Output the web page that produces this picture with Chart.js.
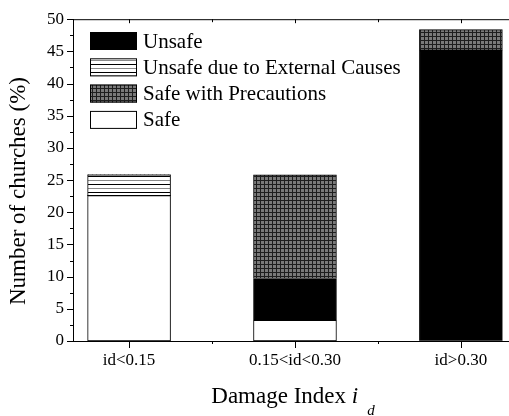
<!DOCTYPE html>
<html>
<head>
<meta charset="utf-8">
<script src="https://cdn.jsdelivr.net/npm/chart.js@4/dist/chart.umd.min.js"></script>
<style>
  html, body { margin: 0; padding: 0; background: #fff; overflow: hidden; }
</style>
</head>
<body>
<canvas id="chart" width="509" height="416"></canvas>
<script>
// categories and stacked shares (% of churches)
const categories = ['id<0.15', '0.15<id<0.30', 'id>0.30'];
const safe = [22.58, 3.23, 0];
const unsafe = [0, 6.45, 45.16];
const unsafeExternal = [3.23, 0, 0];
const safePrecautions = [0, 16.13, 3.23];
const yTicks = [0, 5, 10, 15, 20, 25, 30, 35, 40, 45, 50];
const legendOrder = ['Unsafe', 'Unsafe due to External Causes', 'Safe with Precautions', 'Safe'];

const FONT = "'Liberation Serif', 'Times New Roman', serif";

function makePattern(w, h, draw) {
  const c = document.createElement('canvas');
  c.width = w;
  c.height = h;
  const g = c.getContext('2d');
  draw(g);
  return document.getElementById('chart').getContext('2d').createPattern(c, 'repeat');
}

// horizontal lines
const hatch = makePattern(8, 8, g => {
  g.fillStyle = '#fff';
  g.fillRect(0, 0, 8, 8);
  g.fillStyle = '#000';
  g.fillRect(0, 0, 8, 1);
  g.fillStyle = '#8a8a8a';
  g.fillRect(0, 4, 8, 1);
});

// dark grid
const grid = makePattern(4, 4, g => {
  g.fillStyle = '#7a7a7a';
  g.fillRect(0, 0, 4, 4);
  g.fillStyle = '#1e1e1e';
  g.fillRect(0, 0, 4, 1);
  g.fillRect(0, 0, 1, 4);
});

function series(label, values, fill) {
  return {
    label,
    data: values.map((v, i) => ({ x: i + 1, y: v })),
    backgroundColor: fill,
    borderColor: '#000',
    borderWidth: ctx => (ctx.raw && ctx.raw.y > 0 ? 1 : 0),
    borderSkipped: false,
    // the ruler also counts the half-step ticks, so 1.0 gives half the category spacing
    barPercentage: 1,
    categoryPercentage: 1
  };
}

// ticks, frame, legend and axis titles
const decor = {
  id: 'decor',
  afterDraw(chart) {
    const { ctx, chartArea: a, scales } = chart;
    const xs = scales.x, ys = scales.y;
    ctx.save();
    ctx.strokeStyle = '#000';
    ctx.lineWidth = 1;
    ctx.beginPath();
    ctx.moveTo(a.left, a.top + 0.5);
    ctx.lineTo(a.right, a.top + 0.5);
    ys.ticks.forEach(t => {
      const y = Math.round(ys.getPixelForValue(t.value)) + 0.5;
      const len = t.value % 5 === 0 ? 6 : 3;
      ctx.moveTo(a.left - len, y);
      ctx.lineTo(a.left, y);
    });
    xs.ticks.forEach(t => {
      const x = Math.round(xs.getPixelForValue(t.value)) + 0.5;
      const major = Number.isInteger(t.value);
      ctx.moveTo(x, a.bottom);
      ctx.lineTo(x, a.bottom + (major ? 7 : 3));
      ctx.moveTo(x, a.top);
      ctx.lineTo(x, a.top + (major ? 4 : 3));
    });
    ctx.stroke();

    // legend
    ctx.font = '21px ' + FONT;
    ctx.textBaseline = 'middle';
    ctx.fillStyle = '#000';
    legendOrder.forEach((name, i) => {
      const ds = chart.data.datasets.find(d => d.label === name);
      const y = 32 + i * 26.3;
      ctx.fillStyle = ds.backgroundColor;
      ctx.fillRect(90, y, 47, 18);
      ctx.strokeRect(90.5, y + 0.5, 46, 17);
      ctx.fillStyle = '#000';
      ctx.fillText(name, 143, y + 10);
    });

    // y title
    ctx.save();
    ctx.translate(25, 191);
    ctx.rotate(-Math.PI / 2);
    ctx.font = '23px ' + FONT;
    ctx.textAlign = 'center';
    ctx.textBaseline = 'alphabetic';
    ctx.fillText('Number of churches (%)', 0, 0);
    ctx.restore();

    // x title with italic i and subscript d
    const main = 'Damage Index ';
    const gap = 9;
    ctx.textBaseline = 'alphabetic';
    ctx.font = '23px ' + FONT;
    const w1 = ctx.measureText(main).width;
    ctx.font = 'italic 23px ' + FONT;
    const w2 = ctx.measureText('i').width;
    ctx.font = 'italic 15px ' + FONT;
    const w3 = ctx.measureText('d').width;
    const x = xs.getPixelForValue(2) - (w1 + w2 + gap + w3) / 2 - 2;
    ctx.font = '23px ' + FONT;
    ctx.fillText(main, x, 403);
    ctx.font = 'italic 23px ' + FONT;
    ctx.fillText('i', x + w1, 403);
    ctx.font = 'italic 15px ' + FONT;
    ctx.fillText('d', x + w1 + w2 + gap, 415);
    ctx.restore();
  }
};

new Chart(document.getElementById('chart'), {
  type: 'bar',
  data: {
    datasets: [
      series('Safe', safe, '#fff'),
      series('Unsafe', unsafe, '#000'),
      series('Unsafe due to External Causes', unsafeExternal, hatch),
      series('Safe with Precautions', safePrecautions, grid)
    ]
  },
  options: {
    responsive: false,
    animation: false,
    devicePixelRatio: 1,
    layout: { padding: { top: 14, right: 0, left: 0, bottom: 0 } },
    plugins: { legend: { display: false }, tooltip: { enabled: false } },
    scales: {
      x: {
        type: 'linear',
        stacked: true,
        offset: false,
        min: 0.662,
        max: 3.29,
        afterBuildTicks: s => { s.ticks = [1, 1.5, 2, 2.5, 3].map(v => ({ value: v })); },
        afterFit: s => { s.height = 75; },
        grid: { display: false, drawTicks: false, offset: false },
        border: { display: true, color: '#000', width: 1 },
        ticks: {
          autoSkip: false,
          maxRotation: 0,
          padding: 9,
          color: '#000',
          font: { family: FONT, size: 17 },
          callback: v => (Number.isInteger(v) ? categories[v - 1] : '')
        }
      },
      y: {
        stacked: true,
        min: 0,
        max: 50,
        afterBuildTicks: s => {
          const t = [];
          yTicks.forEach((v, i) => {
            t.push({ value: v });
            if (i < yTicks.length - 1) t.push({ value: (v + yTicks[i + 1]) / 2 });
          });
          s.ticks = t;
        },
        afterFit: s => { s.width = 73; },
        grid: { display: false, drawTicks: false },
        border: { display: true, color: '#000', width: 1 },
        ticks: {
          autoSkip: false,
          padding: 9,
          color: '#000',
          font: { family: FONT, size: 17 },
          callback: v => (yTicks.includes(v) ? String(v) : '')
        }
      }
    }
  },
  plugins: [decor]
});
</script>
</body>
</html>
